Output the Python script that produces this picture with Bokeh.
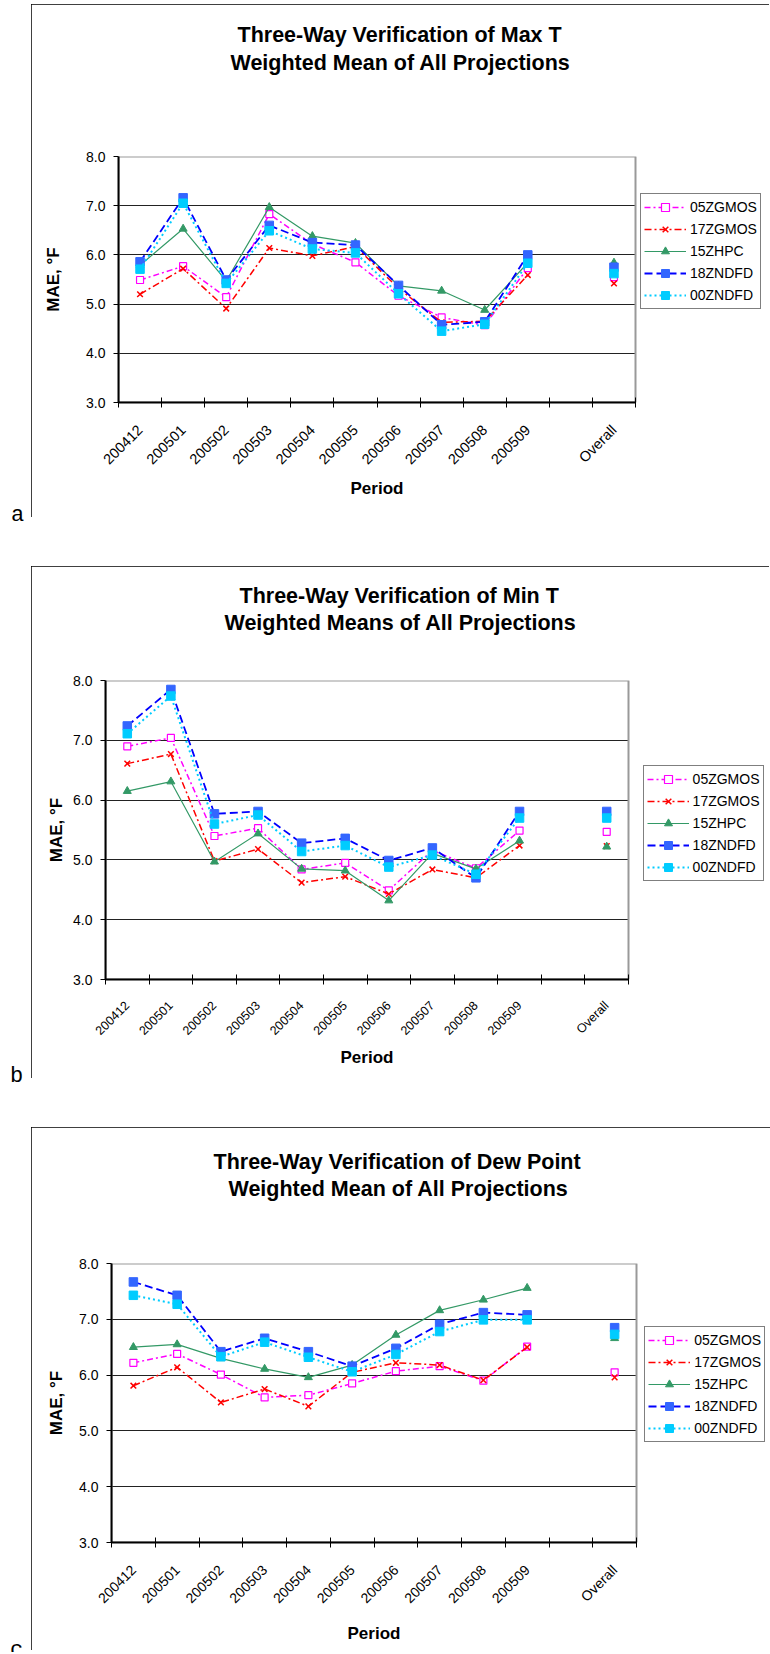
import math
from bokeh.plotting import figure
from bokeh.layouts import column, row
from bokeh.models import (Range1d, FixedTicker, Legend, LegendItem, Title,
                          NumeralTickFormatter, Div, Spacer)
from bokeh.embed import file_html
from bokeh.resources import INLINE

NaN = float("nan")

# ---------------- data ----------------
periods = ["200412", "200501", "200502", "200503", "200504", "200505",
           "200506", "200507", "200508", "200509", "", "Overall"]
series_names = ["05ZGMOS", "17ZGMOS", "15ZHPC", "18ZNDFD", "00ZNDFD"]
y_ticks = [3.0, 4.0, 5.0, 6.0, 7.0, 8.0]
grid_ticks = [4.0, 5.0, 6.0, 7.0]

# (a) Max T
maxt_05zgmos = [5.49, 5.77, 5.14, 6.83, 6.22, 5.85, 5.17, 4.73, 4.57, 5.73, NaN, 5.55]
maxt_17zgmos = [5.20, 5.72, 4.91, 6.14, 5.98, 6.17, 5.32, 4.63, 4.65, 5.59, NaN, 5.42]
maxt_15zhpc = [5.79, 6.53, 5.47, 6.97, 6.38, 6.24, 5.37, 5.27, 4.88, 5.84, NaN, 5.84]
maxt_18zndfd = [5.86, 7.16, 5.49, 6.60, 6.25, 6.20, 5.38, 4.58, 4.64, 6.00, NaN, 5.75]
maxt_00zndfd = [5.71, 7.05, 5.42, 6.49, 6.12, 6.04, 5.21, 4.45, 4.59, 5.83, NaN, 5.62]

# (b) Min T
mint_05zgmos = [6.90, 7.04, 5.40, 5.53, 4.84, 4.95, 4.49, 5.16, 4.86, 5.49, NaN, 5.47]
mint_17zgmos = [6.61, 6.77, 4.98, 5.18, 4.62, 4.72, 4.43, 4.84, 4.70, 5.24, NaN, 5.23]
mint_15zhpc = [6.15, 6.31, 4.97, 5.44, 4.85, 4.82, 4.32, 5.11, 4.85, 5.32, NaN, 5.22]
mint_18zndfd = [7.24, 7.85, 5.77, 5.81, 5.28, 5.36, 4.99, 5.20, 4.70, 5.81, NaN, 5.81]
mint_00zndfd = [7.11, 7.74, 5.60, 5.75, 5.14, 5.24, 4.88, 5.08, 4.76, 5.70, NaN, 5.70]

# (c) Dew Point
dewp_05zgmos = [6.22, 6.38, 6.01, 5.60, 5.64, 5.85, 6.07, 6.16, 5.90, 6.51, NaN, 6.05]
dewp_17zgmos = [5.81, 6.14, 5.51, 5.75, 5.44, 6.05, 6.22, 6.18, 5.91, 6.50, NaN, 5.96]
dewp_15zhpc = [6.50, 6.55, 6.30, 6.11, 5.96, 6.18, 6.72, 7.16, 7.35, 7.56, NaN, 6.66]
dewp_18zndfd = [7.67, 7.43, 6.42, 6.66, 6.42, 6.16, 6.48, 6.91, 7.12, 7.08, NaN, 6.85]
dewp_00zndfd = [7.43, 7.27, 6.33, 6.59, 6.32, 6.06, 6.37, 6.78, 6.99, 6.99, NaN, 6.73]

# ---------------- styles ----------------
STYLE = {
    "05ZGMOS": dict(color="#FF00FF", dash="6 3 2 3", width=1.5, marker="square",
                    size=7, fill="white", mline="#FF00FF", mwidth=1.2),
    "17ZGMOS": dict(color="#FF0000", dash="7 3 2 3", width=1.5, marker="x",
                    size=8, fill="#FF0000", mline="#FF0000", mwidth=1.5),
    "15ZHPC": dict(color="#339966", dash="solid", width=1.2, marker="triangle",
                   size=8, fill="#339966", mline="#339966", mwidth=1),
    "18ZNDFD": dict(color="#0000FF", dash="8 4", width=1.8, marker="square",
                    size=8.5, fill="#3366FF", mline="#3366FF", mwidth=1),
    "00ZNDFD": dict(color="#00CCFF", dash="2 3", width=2, marker="square",
                    size=8.5, fill="#00CCFF", mline="#00CCFF", mwidth=1),
}

FONT = "Liberation Sans"
LETTER_W = 31


def make_title(text, offset, standoff, size, valign):
    kw = dict(text=text, align="left", offset=offset, vertical_align=valign,
              text_font=FONT, text_font_style="bold", text_font_size=size,
              text_color="black")
    try:
        return Title(standoff=standoff, **kw)
    except Exception:
        return Title(**kw)


def make_panel(data, title1, title2, L):
    Wd, H = L["W"], L["H"]
    fl, ft, fr, fb = L["frame"]          # plot-area box (canvas px)
    n = len(periods)
    y0, y1 = y_ticks[0], y_ticks[-1]
    pxu_x = (fr - fl) / n
    # frame extended to the right edge so the legend sits inside it
    x_end = (Wd - 2 - fl) / pxu_x
    p = figure(width=Wd, height=H, x_range=Range1d(0, x_end),
               y_range=Range1d(y0, y1), output_backend="svg",
               toolbar_location=None,
               min_border_left=fl, min_border_right=2,
               min_border_top=ft, min_border_bottom=H - fb,
               styles={"outline": "1.5px solid black",
                       "outline-offset": "-1.5px"})
    p.background_fill_color = "white"
    p.border_fill_color = "white"
    p.outline_line_color = None

    xs = [i + 0.5 for i in range(n)]

    # grey plot-area border (left/bottom covered by the black axes)
    p.quad(left=[0], right=[n], bottom=[y0], top=[y1], fill_color=None,
           line_color="#999999", line_width=2)

    xa = p.xaxis[0]
    xa.bounds = (0, n)
    xa.ticker = FixedTicker(ticks=xs, minor_ticks=list(range(n + 1)))
    xa.major_label_overrides = {x: lab for x, lab in zip(xs, periods)}
    xa.major_label_orientation = math.pi / 4
    xa.major_tick_line_color = None
    xa.major_tick_in = 0
    xa.major_tick_out = 5
    xa.minor_tick_in = 5
    xa.minor_tick_out = 5
    xa.minor_tick_line_color = "black"
    xa.minor_tick_line_width = 1
    xa.axis_line_color = "black"
    xa.axis_line_width = 2
    xa.major_label_text_font = FONT
    xa.major_label_text_font_size = L["xfont"]
    xa.major_label_text_color = "black"
    xa.major_label_standoff = L["xstand"]

    ya = p.yaxis[0]
    ya.bounds = (y0, y1)
    ya.ticker = FixedTicker(ticks=y_ticks, minor_ticks=[])
    ya.formatter = NumeralTickFormatter(format="0.0")
    ya.major_tick_in = 0
    ya.major_tick_out = 5
    ya.major_tick_line_color = "black"
    ya.axis_line_color = "black"
    ya.axis_line_width = 2
    ya.major_label_text_font = FONT
    ya.major_label_text_font_size = "14px"
    ya.major_label_text_color = "black"
    ya.major_label_standoff = 8
    ya.axis_label = "MAE, °F"
    ya.axis_label_text_font = FONT
    ya.axis_label_text_font_style = "bold"
    ya.axis_label_text_font_size = "17px"
    ya.axis_label_text_color = "black"
    ya.axis_label_standoff = L["ylabstand"]

    p.xgrid.visible = False
    p.ygrid.ticker = FixedTicker(ticks=grid_ticks, minor_ticks=[])
    p.ygrid.grid_line_color = "#222222"
    p.ygrid.grid_line_width = 1
    try:
        p.ygrid.cross_bounds = (0, n)
    except Exception:
        p.ygrid.visible = False
        for g in grid_ticks:
            p.segment(x0=[0], y0=[g], x1=[n], y1=[g], line_color="#222222",
                      line_width=1)

    items = []
    for name, vals in zip(series_names, data):
        s = STYLE[name]
        lr = p.line(xs, vals, line_color=s["color"], line_dash=s["dash"],
                    line_width=s["width"])
        sr = p.scatter(xs, vals, marker=s["marker"], size=s["size"],
                       fill_color=s["fill"], line_color=s["mline"],
                       line_width=s["mwidth"])
        items.append(LegendItem(label=name, renderers=[lr, sr]))

    lg_l, lg_b = L["legend"]
    leg = Legend(items=items, location=(lg_l - fl, fb - lg_b), glyph_width=42,
                 glyph_height=20, label_height=20, spacing=2, padding=3,
                 label_standoff=4, margin=0,
                 border_line_color="black", border_line_width=1.5,
                 background_fill_color="white", background_fill_alpha=1,
                 label_text_font=FONT, label_text_font_size="14px",
                 label_text_color="black")
    p.add_layout(leg)

    # blank gap between the plot area and the two-line chart title
    p.add_layout(make_title(" ", 0, L["title_gap"], "10px", "top"), "above")
    (o1, s1), (o2, s2) = L["titles"]
    p.add_layout(make_title(title2, o2, s2, "21.5px", "top"), "above")
    p.add_layout(make_title(title1, o1, s1, "21.5px", "top"), "above")
    # x-axis title, centred under the plot area
    po, ps = L["period"]
    p.add_layout(make_title("Period", po, ps, "17px", "bottom"), "below")
    return p


def letter_div(letter, height, pad_top, pad_left):
    html = ('<div style="font-family:\'Liberation Mono\',monospace;font-size:22px;'
            'line-height:22px;color:black;padding-top:%dpx;padding-left:%dpx;">%s</div>'
            % (pad_top, pad_left, letter))
    return Div(text=html, width=LETTER_W, height=height, margin=0,
               styles={"overflow": "hidden"})


# canvas-pixel layout of each panel (canvas origin = top-left of the boxed panel)
LAY_A = dict(W=738, H=513, frame=(87, 152, 604, 398), legend=(609, 305.3),
             title_gap=67, titles=((119, 3), (112, 0)), period=(232, 1),
             xfont="14.5px", xstand=20, ylabstand=20)
LAY_B = dict(W=738, H=512, frame=(74, 114, 597, 413), legend=(611.6, 315),
             title_gap=31, titles=((134, 2), (119, 0)), period=(235, 0),
             xfont="12.5px", xstand=19, ylabstand=4)
LAY_C = dict(W=739, H=523, frame=(80, 136, 605, 415), legend=(613.3, 314.7),
             title_gap=48, titles=((102, 2), (117, 0)), period=(236, 14),
             xfont="14px", xstand=20, ylabstand=10)

pa = make_panel([maxt_05zgmos, maxt_17zgmos, maxt_15zhpc, maxt_18zndfd, maxt_00zndfd],
                "Three-Way Verification of Max T", "Weighted Mean of All Projections",
                LAY_A)
pb = make_panel([mint_05zgmos, mint_17zgmos, mint_15zhpc, mint_18zndfd, mint_00zndfd],
                "Three-Way Verification of Min T", "Weighted Means of All Projections",
                LAY_B)
pc = make_panel([dewp_05zgmos, dewp_17zgmos, dewp_15zhpc, dewp_18zndfd, dewp_00zndfd],
                "Three-Way Verification of Dew Point", "Weighted Mean of All Projections",
                LAY_C)

row_a = row(letter_div("a", 526, 501, 11), pa, spacing=0)
row_b = row(letter_div("b", 526, 500, 10), pb, spacing=0)
row_c = row(letter_div("c", 525, 513, 10), pc, spacing=0)

layout = column(Spacer(height=4), row_a, Spacer(height=36), row_b,
                Spacer(height=35), row_c, spacing=0)
open("out.html", "w").write(file_html(layout, INLINE))
